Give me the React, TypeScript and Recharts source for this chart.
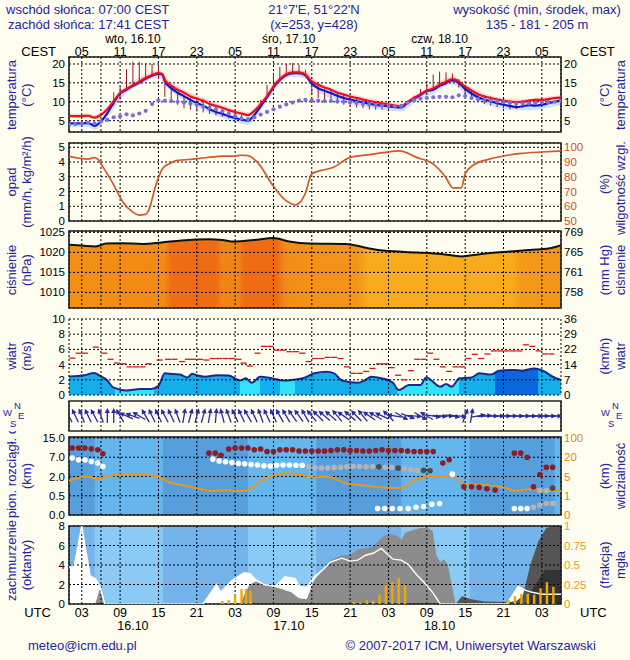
import React from "react";
import {
  ComposedChart,
  Line,
  Area,
  Scatter,
  XAxis,
  YAxis,
  CartesianGrid,
  ReferenceArea,
  ErrorBar,
} from "recharts";

const W = 630;
const H = 660;
const LEFT = 69;
const RIGHT = 69;
const PAD = 8;
const FONT = '"Liberation Sans", Arial, Helvetica, sans-serif';
const NAVY = "#25259b";
const X_DOMAIN: [number, number] = [1, 78];

// time axis: hours since 00 UTC 16.10
const gridHours = [3, 6, 9, 12, 15, 18, 21, 24, 27, 30, 33, 36, 39, 42, 45, 48, 51, 54, 57, 60, 63, 66, 69, 72, 75];
const labelHours = [3, 9, 15, 21, 27, 33, 39, 45, 51, 57, 63, 69, 75];
const dayTicks = [11, 35.4, 59];
const dayNames = ["wto, 16.10", "śro, 17.10", "czw, 18.10"];
const dayDates = ["16.10", "17.10", "18.10"];
const nights: [number, number][] = [[1, 5], [15.7, 29], [39.7, 53], [63.7, 77]];
const hours = Array.from({ length: 78 }, (_, i) => i + 1);

// temperature (°C)
const tempRed: [number, number][] = [
  [1, 6.2], [2, 6.2], [3, 6.2], [4, 6.3], [5, 5.8], [6, 6.5], [7, 8.0], [8, 10.2], [9, 12.4], [10, 13.4],
  [11, 14.4], [12, 15.3], [13, 16.3], [14, 17.1], [15, 17.6], [15.6, 17.4], [16, 15.8], [17, 14.3], [18, 13.2],
  [19, 12.4], [20, 11.4], [21, 10.8], [22, 10.3], [23, 9.4], [24, 8.9], [25, 8.4], [26, 7.8], [27, 7.3],
  [28, 6.9], [29, 6.5], [30, 7.6], [31, 9.4], [32, 11.5], [33, 14.0], [34, 16.0], [35, 17.3], [36, 17.8],
  [37, 17.8], [38, 17.2], [39, 15.4], [40, 14.5], [41, 13.8], [42, 13.2], [43, 12.4], [44, 11.9], [45, 11.4],
  [46, 11.0], [47, 10.6], [48, 10.2], [49, 9.9], [50, 9.6], [51, 9.3], [52, 9.0], [53, 8.8], [54, 10.0],
  [55, 11.0], [56, 12.0], [57, 13.0], [58, 13.5], [59, 14.5], [60, 15.3], [61, 16.0], [62, 15.4], [63, 14.0],
  [64, 13.0], [65, 12.0], [66, 11.4], [67, 11.0], [68, 10.6], [69, 10.3], [70, 10.0], [71, 9.9], [72, 10.0],
  [73, 10.3], [74, 10.5], [75, 10.5], [76, 10.7], [77, 11.0], [78, 11.1],
];
const tempBlue: [number, number][] = [
  [1, 4.3], [2, 4.3], [3, 4.3], [4, 4.4], [5, 3.6], [6, 4.8], [7, 7.0], [8, 9.8], [9, 12.2], [10, 13.2],
  [11, 14.2], [12, 15.1], [13, 16.1], [14, 16.9], [15, 17.4], [15.6, 17.2], [16, 15.4], [17, 13.6], [18, 12.4],
  [19, 11.5], [20, 10.5], [21, 9.7], [22, 9.0], [23, 8.0], [24, 7.3], [25, 6.8], [26, 6.2], [27, 5.7],
  [28, 5.3], [29, 5.0], [30, 6.5], [31, 8.8], [32, 11.2], [33, 13.8], [34, 15.8], [35, 17.1], [36, 17.6],
  [37, 17.6], [38, 17.0], [39, 14.8], [40, 13.6], [41, 12.9], [42, 12.3], [43, 11.6], [44, 11.0], [45, 10.6],
  [46, 10.2], [47, 9.8], [48, 9.5], [49, 9.2], [50, 9.0], [51, 8.8], [52, 8.6], [53, 8.5], [54, 9.8],
  [55, 10.8], [56, 11.8], [57, 12.8], [58, 13.2], [59, 14.2], [60, 15.0], [61, 15.7], [62, 15.0], [63, 13.4],
  [64, 12.2], [65, 11.2], [66, 10.6], [67, 10.1], [68, 9.6], [69, 9.2], [70, 8.9], [71, 8.6], [72, 8.8],
  [73, 9.1], [74, 9.0], [75, 9.2], [76, 9.6], [77, 10.0], [78, 10.4],
];
const pinkBand: [number, number, number][] = [
  [1, 5.8, 6.8], [4, 5.8, 6.9], [5, 5.4, 6.5], [7, 7.5, 8.8], [10, 12.8, 14.2], [13, 15.8, 17.2], [15, 17.0, 18.4],
  [16, 15.2, 16.6], [19, 11.9, 13.2], [22, 9.8, 11.1], [25, 7.8, 9.1], [28, 6.3, 7.6], [29, 6.0, 7.2],
  [31, 8.8, 10.2], [34, 15.4, 16.8], [36, 17.2, 18.6], [38, 16.6, 18.0], [40, 13.9, 15.3], [43, 11.8, 13.1],
  [46, 10.4, 11.7], [49, 9.3, 10.6], [52, 8.4, 9.7], [53, 8.3, 9.5], [55, 10.4, 11.7], [58, 12.9, 14.3],
  [61, 15.4, 16.8], [63, 13.4, 14.8], [66, 10.8, 12.1], [69, 9.7, 11.0], [72, 9.4, 10.7], [75, 9.9, 11.2],
  [78, 10.5, 11.8],
];
const blueBand: [number, number, number][] = [
  [1, 3.2, 4.3], [4, 3.3, 4.4], [5, 2.6, 3.6], [7, 6.0, 7.0], [10, 12.2, 13.2], [13, 15.2, 16.1], [15, 16.4, 17.4],
  [16, 14.4, 15.4], [19, 10.4, 11.5], [22, 7.9, 9.0], [25, 5.7, 6.8], [28, 4.2, 5.3], [29, 3.9, 5.0],
  [31, 7.7, 8.8], [34, 14.8, 15.8], [36, 16.6, 17.6], [38, 16.0, 17.0], [40, 12.5, 13.6], [43, 10.5, 11.6],
  [46, 9.1, 10.2], [49, 8.1, 9.2], [52, 7.5, 8.6], [53, 7.4, 8.5], [55, 9.7, 10.8], [58, 12.1, 13.2],
  [61, 14.6, 15.7], [63, 12.3, 13.4], [66, 9.5, 10.6], [69, 8.1, 9.2], [72, 7.7, 8.8], [75, 8.1, 9.2],
  [78, 9.3, 10.4],
];
const tempSpread: [number, number, number][] = [
  [8, 9.0, 12.5], [9, 10.6, 14.0], [10, 13.1, 18.6], [11, 14.5, 20.6], [12, 15.4, 20.6], [13, 16.3, 20.3],
  [14, 17.0, 20.0], [15, 16.0, 19.5], [16, 11.3, 14.9], [17, 10.0, 13.6], [18, 9.2, 12.3], [19, 8.3, 11.4],
  [20, 7.9, 11.0], [21, 7.4, 10.6], [22, 7.2, 10.0], [23, 6.8, 9.4], [24, 6.4, 8.6], [25, 6.0, 8.2],
  [26, 5.6, 7.6], [27, 5.2, 7.2], [28, 5.0, 6.8],
  [31, 8.6, 10.5], [32, 11.0, 14.5], [33, 13.5, 17.5], [34, 15.4, 19.2], [35, 16.8, 20.0], [36, 17.2, 20.2],
  [37, 17.3, 19.8], [38, 16.5, 18.5], [39, 12.0, 15.3], [40, 11.0, 14.2], [41, 10.5, 13.5], [42, 10.0, 13.0],
  [43, 9.5, 12.4], [44, 9.2, 11.8], [45, 8.8, 11.3], [46, 8.5, 11.0], [47, 8.3, 10.6], [48, 8.0, 10.2],
  [49, 7.9, 10.0], [50, 7.9, 9.6], [51, 7.8, 9.3],
  [55, 10.6, 11.5], [56, 11.5, 13.4], [57, 12.5, 14.8], [58, 13.0, 17.2], [59, 13.8, 18.0], [60, 14.5, 17.8],
  [61, 15.2, 17.5], [62, 13.8, 16.0], [63, 11.8, 14.2], [64, 10.8, 13.2], [65, 10.0, 12.4], [66, 9.4, 11.8],
  [67, 9.0, 11.4], [68, 8.6, 11.0], [69, 8.3, 10.8], [70, 8.0, 10.5], [71, 8.1, 10.2], [72, 8.5, 10.4],
  [73, 8.8, 10.6], [74, 8.9, 10.8], [75, 9.1, 10.9], [76, 9.4, 11.0],
];
// hourly, t = 1..78
const dewPoint = [
  4.0, 4.1, 4.3, 4.4, 4.3, 4.8, 5.2, 5.9, 6.2, 6.7, 6.4, 6.9, 7.6, 9.4, 10.4, 10.3, 10.2, 10.0, 9.8, 9.5,
  9.2, 8.8, 8.4, 8.0, 7.4, 6.8, 6.2, 5.6, 5.4, 5.9, 6.6, 7.3, 8.0, 8.7, 9.3, 9.8, 10.3, 10.5, 10.4, 10.3,
  10.2, 10.2, 10.1, 10.0, 9.9, 9.7, 9.5, 9.3, 9.1, 9.0, 8.9, 8.8, 8.9, 9.8, 10.4, 10.8, 11.0, 11.2, 11.3, 11.3,
  11.2, 11.7, 11.5, 11.0, 10.7, 10.5, 10.3, 10.1, 9.9, 9.7, 9.5, 9.5, 9.6, 9.7, 9.8, 9.9, 10.0, 10.2,
];

// relative humidity (%)
const humidity: [number, number][] = [
  [1, 93.6], [2, 93], [3, 92.3], [4, 92], [4.9, 93], [5.5, 92], [6.4, 86], [8, 74.5], [9.4, 63], [11, 56],
  [12, 54], [13, 54.5], [13.5, 57.6], [14.6, 74.4], [15.7, 86], [16.8, 89], [17.8, 91], [19, 91.5], [20.4, 92],
  [21.5, 92.5], [23.6, 93.5], [25, 94], [26.8, 94], [28, 94.6], [29, 94.3], [30.5, 89.7], [33, 73.5],
  [34.9, 64], [36.5, 61], [37.1, 62.4], [38, 69], [39, 82], [40.5, 84.3], [42.4, 86.4], [44.9, 93], [48, 95],
  [50.5, 96.6], [52.7, 97.6], [55.5, 93], [58, 88.6], [59.9, 80], [61.1, 72.5], [62.4, 72.5], [63, 82],
  [64.3, 88], [66.8, 92], [69.3, 94.3], [71.8, 95.8], [75, 96.8], [78, 97.5],
];

// pressure (hPa)
const pressure: [number, number][] = [
  [1, 1021.9], [3, 1021.7], [5.2, 1021.5], [6.8, 1022.2], [9.3, 1022.3], [12.4, 1022.1], [15.5, 1022.5],
  [18.6, 1023], [23, 1023.3], [25, 1023.1], [26.8, 1022.7], [29.9, 1023.1], [33, 1023.6], [35.5, 1022.7],
  [38.6, 1022.2], [44.3, 1022.1], [48, 1021], [50.5, 1020.4], [55.5, 1020], [59.3, 1019.6], [62.4, 1019],
  [65.5, 1019.6], [69.9, 1020.2], [74.1, 1020.7], [76.5, 1021.1], [78, 1021.8],
];
const pressureColors: [number, string][] = [
  [1, "#f39014"], [16, "#f28a14"], [17, "#ee6e14"], [24, "#ee6c14"], [25, "#f08414"], [27.5, "#f08414"],
  [28.5, "#ee6c14"], [33.5, "#ee6c14"], [35, "#f28e18"], [46, "#f39418"], [48, "#f8ac1c"], [70, "#f8ac1c"],
  [72, "#f49a18"], [78, "#f39418"],
];

// wind (m/s)
const windSpeed: [number, number][] = [
  [1, 2.45], [3.4, 2.6], [4.9, 2.9], [5.9, 2.5], [6.9, 2.0], [7.9, 1.0], [10, 0.6], [12.1, 0.8], [13.9, 0.8],
  [15, 1.2], [16, 2.85], [17.3, 2.75], [18.4, 2.7], [19.5, 2.3], [20.3, 2.8], [21, 2.6], [22.3, 2.4],
  [24.1, 2.6], [26, 2.55], [27.8, 1.9], [28.7, 2.2], [29.6, 1.6], [30.9, 2.4], [32.7, 2.2], [34.5, 1.9],
  [36.4, 2.05], [37.6, 2.2], [39.4, 2.85], [41.3, 3.05], [42.5, 2.85], [43.7, 1.9], [46.2, 1.6], [47.4, 2.0],
  [48.3, 2.4], [49.9, 2.2], [51.7, 1.6], [52.6, 0.65], [54.2, 1.3], [56, 1.3], [56.9, 2.3], [59.1, 1.1],
  [60, 1.45], [60.9, 1.1], [62.1, 2.2], [64, 2.3], [65.2, 2.85], [67.1, 2.7], [68.3, 3.2], [70.7, 3.3],
  [71.9, 3.2], [73.8, 3.5], [75.4, 3.1], [76.7, 2.4], [78, 2.0],
];
const windGust: [number, number][] = [
  [1.5, 4.85], [2.5, 5.5], [3.5, 5.5], [5.2, 6.3], [6.5, 5.5], [7.5, 4.7], [8.5, 4.2], [9.5, 4.1], [10.5, 3.7],
  [11.5, 3.7], [12.5, 3.7], [13.5, 4.1], [15.2, 4.6], [16.5, 4.7], [17.5, 4.7], [18.7, 4.4], [19.6, 4.7],
  [20.5, 4.7], [21.5, 4.7], [22.5, 4.6], [23.5, 4.8], [24.5, 4.8], [25.5, 4.8], [26.5, 4.8], [27.5, 4.7],
  [28.3, 4.2], [29.3, 3.8], [30.5, 5.5], [31.5, 6.4], [32.5, 6.4], [33.5, 5.9], [34.5, 5.9], [35.5, 5.7],
  [36.5, 5.7], [37.5, 5.5], [38.5, 4.4], [39.5, 4.8], [40.5, 4.8], [41.5, 4.95], [42.5, 4.95], [43.5, 4.8],
  [44.5, 3.7], [45.5, 2.85], [46.5, 2.85], [47.5, 3.1], [48.5, 3.5], [49.5, 4.1], [50.5, 4.1], [51.5, 3.6],
  [52.5, 2.6], [53.5, 2.0], [54.5, 3.2], [55.5, 4.7], [56.5, 4.7], [57.5, 5.5], [58.5, 4.7], [59.5, 3.7],
  [60.5, 3.1], [61.5, 3.7], [62.5, 3.7], [63.5, 4.8], [64.5, 5.35], [65.5, 4.8], [66.5, 5.4], [67.5, 5.8],
  [68.5, 5.8], [69.5, 5.8], [70.5, 5.8], [71.5, 5.8], [72.5, 6.6], [73.5, 6.4], [74.5, 5.8], [75.5, 5.4],
  [76.5, 5.4],
];
const windBands: [number, number, string][] = [
  [1, 8.2, "#14aeec"], [8.2, 14.3, "#34e2f8"], [14.3, 27.8, "#14aeec"], [27.8, 30.9, "#34e2f8"],
  [30.9, 34, "#14aeec"], [34, 36.4, "#34e2f8"], [36.4, 52.3, "#14aeec"], [52.3, 62.1, "#34e2f8"],
  [62.1, 67.7, "#14aeec"], [67.7, 74.4, "#0a66dc"], [74.4, 78, "#14aeec"],
];
// direction the arrow points to, degrees clockwise from north, hourly t = 1..78
const windDir = [
  -25, -25, -22, -25, -28, -20, 0, 0, -30, -65, -70, -60, -30, -25, -25, -28, -25, -20, 10, 15,
  15, 15, 10, 5, -15, -20, -25, -25, -30, -25, -20, -25, -25, -30, -30, -35, -35, -30, -40, -45,
  -50, -50, -40, -55, -50, -45, -40, -55, -60, -65, -45, -80, 120, 110, 95, 120, -60, 100, 95, 90,
  100, 95, 20, 10, 80, 85, 90, 90, 90, 90, 90, 90, 90, 90, 90, 90, 90, 90,
];

// cloud extent (km) and visibility (km)
const visL = [0, 0.5, 2, 7, 15];
const visR = [0, 1, 5, 20, 100];
const cloudTopDots: [number, number][] = [
  [1.5, 10.8], [2.5, 10.8], [3.5, 10.8], [4.5, 10.5], [5.5, 10.1], [6.3, 8.4], [22.9, 8.7], [23.9, 8.7],
  [24.8, 7.8], [26, 10.4], [27, 10.8], [28, 10.8], [29, 10.8], [30, 10.1], [31, 10.4], [32, 9.4], [33, 9.4],
  [34, 10.1], [35, 10.1], [36, 10.1], [37, 9.6], [38, 9.6], [39, 9.6], [40, 9.6], [41, 9.6], [42, 9.8],
  [43, 10.1], [44, 10.1], [45, 9.8], [46, 9.8], [47, 9.6], [48, 9.6], [49, 9.8], [50, 10.1], [51, 9.8],
  [52, 9.8], [53, 9.8], [54, 9.6], [55, 9.4], [56, 9.4], [57, 9.4], [58, 9.4], [59.5, 5.5], [60.5, 6.35],
  [62.8, 1.2], [64, 1.2], [65.2, 1.15], [66.4, 1.05], [67.7, 0.95], [70.7, 8.7], [71.7, 8.7], [72.7, 7.0],
  [73.7, 1.2], [74.7, 2.5], [75.7, 4.4], [76.7, 4.4],
];
const cloudBaseWhite: [number, number][] = [
  [1.5, 6.8], [2.5, 6.35], [3.5, 6.3], [4.5, 5.9], [5.5, 5.5], [6.3, 4.6], [23.5, 6.5], [24.5, 6.0],
  [25.5, 5.8], [26.5, 5.6], [27.5, 5.4], [28.5, 5.3], [29.5, 5.1], [30.5, 5.0], [31.5, 4.8], [32.5, 4.7],
  [33.5, 4.9], [34.5, 5.0], [35.5, 5.0], [36.5, 4.9], [37.5, 4.9], [61, 2.6],
  [49.3, 0.17], [50.4, 0.17], [51.6, 0.17], [52.8, 0.17], [54.1, 0.17], [55.3, 0.2], [56.5, 0.22],
  [57.8, 0.28], [59, 0.3], [70.7, 0.17], [71.7, 0.17], [72.7, 0.17],
];
const cloudBaseGray: [number, number][] = [
  [38.5, 4.6], [39.5, 4.3], [40.5, 4.2], [41.5, 4.2], [42.5, 4.3], [43.5, 4.4], [44.5, 4.5], [45.5, 4.6],
  [46.5, 4.6], [47.5, 4.5], [48.5, 4.6], [50.5, 4.4], [51.5, 4.4], [53.5, 4.0], [54.5, 3.8], [55.5, 3.6],
  [73.7, 0.2], [74.7, 0.26], [75.7, 0.3], [76.7, 0.3], [74.7, 0.9], [75.7, 0.9],
];
const cloudBaseDark: [number, number][] = [
  [49.5, 4.5], [52.5, 4.2], [56.5, 3.6], [57.5, 3.5], [76.7, 1.1],
];
const visibility: [number, number][] = [
  [1, 4.1], [3.9, 5], [5.4, 4.5], [6.9, 5], [9.4, 6.3], [12.4, 6.3], [14.9, 5], [16.7, 3.8], [19.2, 3.1],
  [21.6, 2.4], [23.5, 2.0], [25.3, 2.2], [27.8, 2.0], [29, 2.2], [30.9, 4.0], [33.3, 6.3], [35.1, 7.6],
  [37.6, 6.3], [39.4, 4.8], [41.3, 5], [44.4, 3.6], [47.4, 3.1], [49.9, 2.7], [52.3, 2.6], [53.6, 2.7],
  [54.8, 4.1], [57.2, 4.9], [59.7, 5], [60.9, 5.6], [62.8, 3.4], [64.6, 3.3], [67.1, 3.1], [69.5, 2.6],
  [70.7, 2.0], [73.2, 2.4], [76.7, 2.0], [78, 2.0],
];

// cloud cover (octants) and fog (fraction)
const cloudWhite: [number, number][] = [
  [1, 3.8], [1.8, 3.8], [3, 8], [4.3, 2.9], [5.1, 2.6], [5.8, 1.9], [6.6, 0], [22, 0], [24.1, 2.0],
  [24.7, 1.2], [26.5, 2.4], [28.4, 3.2], [29.3, 3.1], [30.2, 2.5], [31.5, 2.0], [33.3, 1.8], [34.8, 2.8],
  [36.4, 2.6], [37, 1.8], [38.2, 1.7], [39.4, 2.8], [40.7, 3.5], [41.9, 4.3], [43.7, 4.7], [45, 4.4],
  [46.2, 4.5], [47.4, 5.0], [48.6, 5.2], [49.9, 5.7], [50.5, 5.3], [51.7, 4.6], [53, 4.5], [54.2, 4.0],
  [55.4, 3.0], [56.6, 2.2], [57.9, 1.2], [59.1, 0], [69.5, 0], [71.3, 1.8], [72.5, 1.4], [73.5, 1.2],
  [75, 1.0], [78, 1.0],
];
const cloudGray: [number, number][] = [
  [1, 0], [5.1, 0], [5.8, 1.5], [6.6, 0], [27.8, 0], [28.6, 1.2], [29.3, 2.0], [30.2, 2.3], [32, 2.0],
  [34, 1.6], [35.8, 1.2], [37, 0.6], [38.2, 0.5], [39.4, 2.5], [40.7, 3.5], [41.9, 4.5], [43.7, 5.0],
  [45, 5.0], [46.2, 5.6], [48.6, 5.9], [49.9, 6.8], [51.1, 7.2], [52.3, 7.0], [53, 6.6], [53.6, 7.3],
  [54.8, 7.6], [56, 7.8], [57.2, 7.8], [57.9, 7.5], [58.5, 5.0], [59.1, 4.3], [59.7, 4.6], [60.3, 4.0],
  [61.5, 0], [78, 0],
];
const cloudDark: [number, number][] = [
  [1, 0], [61.5, 0], [62.5, 0.8], [64, 0.5], [66, 0.25], [70, 0.2], [71, 0.3], [72, 0.8], [73.2, 4],
  [74.5, 6.5], [75.7, 7.8], [76.8, 8], [78, 8],
];
const cloudDarkest: [number, number][] = [
  [1, 0], [72.5, 0], [73.5, 1.5], [74.5, 2.5], [75.5, 3.5], [78, 3.5],
];
const fog: [number, number][] = [
  [25, 0.04], [26, 0.05], [27, 0.12], [28, 0.19], [28.7, 0.19], [29.4, 0.17],
  [45.6, 0.03], [46.6, 0.02], [47.6, 0.05], [48.6, 0.04], [49.6, 0.12], [50.6, 0.25], [51.6, 0.28],
  [52.6, 0.33], [53.6, 0.24],
  [69.8, 0.05], [70.8, 0.1], [71.8, 0.13], [72.8, 0.13], [73.8, 0.12], [74.8, 0.2], [75.8, 0.28], [76.8, 0.22],
];

// panel geometry (plot area in page pixels)
const PT = { top: 57, h: 75, yL: [2, 21.85] };
const PP = { top: 143, h: 78, yL: [0, 5.29], yR: [50, 102.9] };
const PPR = { top: 231, h: 77, yL: [1006.1, 1025.35] };
const PW = { top: 319, h: 76, yL: [0, 10] };
const PD = { top: 401, h: 30, yL: [0, 1] };
const PV = { top: 437, h: 78, yL: [0, 4.05] };
const PC = { top: 526, h: 78, yL: [0, 8], yR: [0, 1] };

const xy = (a: [number, number][]) => a.map(([x, y]) => ({ x, y }));
const toIdx = (v: number, s: number[]) => {
  for (let i = 0; i < s.length - 1; i++) if (v <= s[i + 1]) return i + (v - s[i]) / (s[i + 1] - s[i]);
  return s.length - 1;
};
const off = (t: number) => `${((t - 1) / 77) * 100}%`;
const pad2 = (n: number) => String(((n % 24) + 24) % 24).padStart(2, "0");
const tickStyle = { fontSize: 11.5, fill: "#000", fontFamily: FONT };

function Back({ p, children }: any) {
  return (
    <div style={{ position: "absolute", left: 0, top: p.top - PAD }}>
      <ComposedChart width={W} height={p.h + 2 * PAD} margin={{ top: PAD, bottom: PAD, left: LEFT, right: RIGHT }}>
        <XAxis type="number" dataKey="x" domain={X_DOMAIN} hide allowDataOverflow />
        <YAxis yAxisId="L" type="number" dataKey="y" domain={p.yL} hide allowDataOverflow />
        <YAxis yAxisId="R" type="number" dataKey="y" orientation="right" domain={p.yR ?? p.yL} hide allowDataOverflow />
        {children}
      </ComposedChart>
    </div>
  );
}

function Front({ p, ticksL, ticksR, fmtL, fmtR, colorR = "#000", frame = true, horizontal = true, children }: any) {
  const yR = p.yR ?? p.yL;
  return (
    <div style={{ position: "absolute", left: 0, top: p.top - PAD }}>
      <ComposedChart width={W} height={p.h + 2 * PAD} margin={{ top: PAD, bottom: PAD, left: 0, right: 0 }}>
        <XAxis type="number" dataKey="x" domain={X_DOMAIN} ticks={gridHours} hide allowDataOverflow />
        <YAxis
          yAxisId="L" type="number" dataKey="y" width={LEFT} domain={p.yL} ticks={ticksL} tickFormatter={fmtL}
          interval={0} tick={ticksL ? tickStyle : false} axisLine={false} tickLine={false} tickSize={4}
          tickMargin={0} allowDataOverflow
        />
        <YAxis
          yAxisId="R" type="number" dataKey="y" orientation="right" width={RIGHT} domain={yR} ticks={ticksR}
          tickFormatter={fmtR} interval={0} tick={ticksR ? { ...tickStyle, fill: colorR } : false}
          axisLine={false} tickLine={false} tickSize={3} tickMargin={0} allowDataOverflow
        />
        <CartesianGrid yAxisId="L" stroke="#000" strokeDasharray="2 2" horizontal={horizontal} vertical />
        {children}
        {frame && (
          <ReferenceArea
            yAxisId="L" x1={X_DOMAIN[0]} x2={X_DOMAIN[1]} y1={p.yL[0]} y2={p.yL[1]}
            fill="none" stroke="#222" strokeWidth={1.6} ifOverflow="visible"
          />
        )}
      </ComposedChart>
    </div>
  );
}

function TickRow({ top, ticks, fmt, size = 12.5 }: any) {
  return (
    <div style={{ position: "absolute", left: 0, top: top - 1 }}>
      <ComposedChart width={W} height={18} margin={{ top: 0, bottom: 0, left: LEFT, right: RIGHT }}>
        <XAxis
          type="number" dataKey="x" domain={X_DOMAIN} ticks={ticks} tickFormatter={fmt} interval={0}
          axisLine={false} tickLine={false} tickSize={0} tickMargin={0} height={17}
          tick={{ fontSize: size, fill: "#000", fontFamily: FONT }} allowDataOverflow
        />
        <YAxis hide domain={[0, 1]} />
      </ComposedChart>
    </div>
  );
}

const nightAreas = (fill: string, key: string) =>
  nights.map(([a, b], i) => <ReferenceArea key={key + i} yAxisId="L" x1={a} x2={b} fill={fill} fillOpacity={1} ifOverflow="visible" />);

const Dash = (props: any) => {
  const { cx, cy } = props;
  if (cx == null || cy == null) return <g />;
  return <line x1={cx - 3} x2={cx + 3} y1={cy} y2={cy} stroke="#d01818" strokeWidth={1.3} />;
};
const ArrowShape = (props: any) => {
  const { cx, cy, payload } = props;
  if (cx == null || cy == null) return <g />;
  return (
    <g transform={`translate(${cx},${cy}) rotate(${payload.a})`}>
      <line x1={0} y1={7} x2={0} y2={-5} stroke="#2a2a9c" strokeWidth={1.3} />
      <path d="M0,-8 L-2.6,-3 L2.6,-3 Z" fill="#2a2a9c" />
    </g>
  );
};
const dot = (color: string, r = 2.8) => (props: any) => {
  const { cx, cy } = props;
  if (cx == null || cy == null) return <g />;
  return <circle cx={cx} cy={cy} r={r} fill={color} />;
};
const none = () => <g />;

function RotText({ x, y, children, color = NAVY, size = 13, anchor = "middle" }: any) {
  return (
    <text
      x={x} y={y} transform={`rotate(-90 ${x} ${y})`} textAnchor={anchor} dominantBaseline="central"
      fill={color} fontSize={size} fontFamily={FONT}
    >
      {children}
    </text>
  );
}

function Compass({ x }: any) {
  return (
    <g fill={NAVY} fontFamily={FONT} fontSize={9.5}>
      <text x={x} y={416}>W</text>
      <text x={x + 11} y={409}>N</text>
      <text x={x + 15} y={419}>E</text>
      <text x={x + 7} y={427}>S</text>
    </g>
  );
}

export default function App() {
  const spreadData = tempSpread.map(([x, lo, hi]) => ({ x, y: hi, err: [hi - lo, 0] }));
  const fogData = fog.map(([x, v]) => ({ x, y: v, err: [v, 0] }));
  const dewData = dewPoint.map((v, i) => ({ x: hours[i], y: v }));
  const dirData = windDir.map((a, i) => ({ x: hours[i], y: 0.5, a }));
  const visL2 = (a: [number, number][]) => a.map(([x, v]) => ({ x, y: toIdx(v, visL) }));
  const visTicks = [0, 1, 2, 3, 4];

  return (
    <div style={{ position: "fixed", left: 0, top: 0, width: W, height: H, background: "#fffdf0", fontFamily: FONT, overflow: "hidden" }}>
      {/* day / night columns */}
      <div style={{ position: "absolute", left: 0, top: 29 }}>
        <ComposedChart width={W} height={598} margin={{ top: 0, bottom: 0, left: LEFT, right: RIGHT }}>
          <XAxis type="number" dataKey="x" domain={X_DOMAIN} hide allowDataOverflow />
          <YAxis yAxisId="L" hide domain={[0, 1]} />
          <ReferenceArea yAxisId="L" x1={1} x2={78} fill="#ffffff" fillOpacity={1} />
          {nightAreas("#dcdcdc", "n")}
        </ComposedChart>
      </div>

      <TickRow top={34} size={12} ticks={dayTicks} fmt={(v: number) => dayNames[dayTicks.indexOf(v)]} />
      <TickRow top={47} ticks={labelHours} fmt={(v: number) => pad2(v + 2)} />

      {/* temperature */}
      <Back p={PT}>
        <Area yAxisId="L" data={pinkBand.map(([x, lo, hi]) => ({ x, y: [lo, hi] }))} dataKey="y" type="monotone" stroke="none" fill="#ffb8c2" fillOpacity={0.6} isAnimationActive={false} />
        <Area yAxisId="L" data={blueBand.map(([x, lo, hi]) => ({ x, y: [lo, hi] }))} dataKey="y" type="monotone" stroke="none" fill="#a8d2ff" fillOpacity={0.6} isAnimationActive={false} />
      </Back>
      <Front p={PT} ticksL={[5, 10, 15, 20]} ticksR={[5, 10, 15, 20]}>
        <Scatter yAxisId="L" data={dewData} dataKey="y" shape={dot("#7a70d8", 2.1)} isAnimationActive={false} />
        <Scatter yAxisId="L" data={spreadData} dataKey="y" shape={none} isAnimationActive={false}>
          <ErrorBar dataKey="err" direction="y" width={0} stroke="#a0142a" strokeWidth={1} />
        </Scatter>
        <Line yAxisId="L" data={xy(tempBlue)} dataKey="y" type="monotone" stroke="#1414c8" strokeWidth={2.2} dot={false} isAnimationActive={false} />
        <Line yAxisId="L" data={xy(tempRed)} dataKey="y" type="monotone" stroke="#e8101a" strokeWidth={2.2} dot={false} isAnimationActive={false} />
      </Front>

      {/* precipitation / humidity */}
      <Front p={PP} ticksL={[0, 1, 2, 3, 4, 5]} ticksR={[50, 60, 70, 80, 90, 100]} colorR="#d0501c">
        <Line yAxisId="R" data={xy(humidity)} dataKey="y" type="monotone" stroke="#d4582a" strokeWidth={1.7} dot={false} isAnimationActive={false} />
      </Front>

      {/* pressure */}
      <Back p={PPR}>
        <defs>
          <linearGradient id="pressFill" x1="0" y1="0" x2="1" y2="0">
            {pressureColors.map(([t, c], i) => <stop key={i} offset={off(t)} stopColor={c} />)}
          </linearGradient>
        </defs>
        <Area yAxisId="L" data={xy(pressure)} dataKey="y" type="monotone" stroke="#111" strokeWidth={2} fill="url(#pressFill)" fillOpacity={1} isAnimationActive={false} />
      </Back>
      <Front p={PPR} ticksL={[1010, 1015, 1020, 1025]} ticksR={[1010, 1015, 1020, 1025]} fmtR={(v: number) => String(Math.round(v * 0.750062))} />

      {/* wind */}
      <Back p={PW}>
        <defs>
          <linearGradient id="windFill" x1="0" y1="0" x2="1" y2="0">
            {windBands.flatMap(([a, b, c], i) => [
              <stop key={"a" + i} offset={off(a)} stopColor={c} />,
              <stop key={"b" + i} offset={off(b)} stopColor={c} />,
            ])}
          </linearGradient>
        </defs>
        <Area yAxisId="L" data={xy(windSpeed)} dataKey="y" type="monotone" stroke="#1a2a8c" strokeWidth={2} fill="url(#windFill)" fillOpacity={1} isAnimationActive={false} />
      </Back>
      <Front p={PW} ticksL={[0, 2, 4, 6, 8, 10]} ticksR={[0, 2, 4, 6, 8, 10]} fmtR={(v: number) => String(Math.round(v * 3.6))} frame={false}>
        <Scatter yAxisId="L" data={xy(windGust)} dataKey="y" shape={Dash} isAnimationActive={false} />
      </Front>

      {/* wind direction */}
      <Front p={PD} horizontal={false}>
        <Scatter yAxisId="L" data={dirData} dataKey="y" shape={ArrowShape} isAnimationActive={false} />
      </Front>

      {/* cloud extent / visibility */}
      <Back p={PV}>
        <ReferenceArea yAxisId="L" x1={1} x2={78} fill="#66b6ee" fillOpacity={1} />
        {nightAreas("#579fdc", "v")}
      </Back>
      <Front
        p={PV} ticksL={visTicks} ticksR={visTicks} colorR="#e08a10"
        fmtL={(i: number) => ["0.0", "0.5", "2.0", "7.0", "15.0"][i]} fmtR={(i: number) => String(visR[i])}
      >
        <Line yAxisId="L" data={visibility.map(([x, v]) => ({ x, y: toIdx(v, visR) }))} dataKey="y" type="monotone" stroke="#e8961e" strokeWidth={2} dot={false} isAnimationActive={false} />
        <Scatter yAxisId="L" data={visL2(cloudBaseWhite)} dataKey="y" shape={dot("#ffffff")} isAnimationActive={false} />
        <Scatter yAxisId="L" data={visL2(cloudBaseGray)} dataKey="y" shape={dot("#b4b4b4")} isAnimationActive={false} />
        <Scatter yAxisId="L" data={visL2(cloudBaseDark)} dataKey="y" shape={dot("#4a4a4a")} isAnimationActive={false} />
        <Scatter yAxisId="L" data={visL2(cloudTopDots)} dataKey="y" shape={dot("#8e1c24")} isAnimationActive={false} />
      </Front>

      {/* cloud cover / fog */}
      <Back p={PC}>
        <ReferenceArea yAxisId="L" x1={1} x2={78} fill="#8ccaf6" fillOpacity={1} />
        {nightAreas("#74b4ea", "c")}
      </Back>
      <Back p={PC}>
        <Area yAxisId="L" data={xy(cloudWhite)} dataKey="y" type="linear" stroke="none" fill="#ffffff" fillOpacity={1} isAnimationActive={false} />
        <Area yAxisId="L" data={xy(cloudGray)} dataKey="y" type="linear" stroke="none" fill="#8c8c8c" fillOpacity={1} isAnimationActive={false} />
        <Area yAxisId="L" data={xy(cloudDark)} dataKey="y" type="linear" stroke="none" fill="#555555" fillOpacity={1} isAnimationActive={false} />
        <Area yAxisId="L" data={xy(cloudDarkest)} dataKey="y" type="linear" stroke="none" fill="#333333" fillOpacity={1} isAnimationActive={false} />
      </Back>
      <Front p={PC} ticksL={[0, 2, 4, 6, 8]} ticksR={[0, 0.25, 0.5, 0.75, 1]} colorR="#e8a010">
        <Line yAxisId="L" data={xy(cloudWhite)} dataKey="y" type="linear" stroke="#ffffff" strokeWidth={1.4} dot={false} isAnimationActive={false} />
        <Scatter yAxisId="R" data={fogData} dataKey="y" shape={none} isAnimationActive={false}>
          <ErrorBar dataKey="err" direction="y" width={0} stroke="#f0a800" strokeWidth={2.4} />
        </Scatter>
      </Front>

      <TickRow top={608} ticks={labelHours} fmt={(v: number) => pad2(v)} />
      <TickRow top={621} ticks={dayTicks} fmt={(v: number) => dayDates[dayTicks.indexOf(v)]} />

      <svg width={W} height={H} style={{ position: "absolute", left: 0, top: 0, pointerEvents: "none" }}>
        <defs>
          <clipPath id="belowCompass">
            <rect x={0} y={431} width={W} height={H - 431} />
          </clipPath>
        </defs>
        <g fill={NAVY} fontFamily={FONT} fontSize={13}>
          <text x={6} y={14}>wschód słońca: 07:00 CEST</text>
          <text x={8} y={29}>zachód słońca: 17:41 CEST</text>
          <text x={314} y={14} textAnchor="middle">21°7'E, 51°22'N</text>
          <text x={314} y={29} textAnchor="middle">(x=253,  y=428)</text>
          <text x={537} y={14} textAnchor="middle">wysokość (min, środek, max)</text>
          <text x={537} y={29} textAnchor="middle">135 - 181 - 205 m</text>
          <text x={28} y={650}>meteo@icm.edu.pl</text>
          <text x={596} y={650} textAnchor="end">© 2007-2017 ICM, Uniwersytet Warszawski</text>
        </g>
        <g fill="#000" fontFamily={FONT} fontSize={13}>
          <text x={56} y={56} textAnchor="end">CEST</text>
          <text x={580} y={56}>CEST</text>
          <text x={51} y={617} textAnchor="end">UTC</text>
          <text x={580} y={617}>UTC</text>
        </g>
        <RotText x={11} y={95}>temperatura</RotText>
        <RotText x={26} y={95}>(°C)</RotText>
        <RotText x={604} y={95}>(°C)</RotText>
        <RotText x={620} y={95}>temperatura</RotText>
        <RotText x={11} y={182}>opad</RotText>
        <RotText x={26} y={182}>(mm/h, kg/m²/h)</RotText>
        <RotText x={604} y={184}>(%)</RotText>
        <RotText x={620} y={188}>wilgotność wzgl.</RotText>
        <RotText x={11} y={270}>ciśnienie</RotText>
        <RotText x={26} y={270}>(hPa)</RotText>
        <RotText x={604} y={270}>(mm Hg)</RotText>
        <RotText x={620} y={270}>ciśnienie</RotText>
        <RotText x={11} y={356}>wiatr</RotText>
        <RotText x={26} y={356}>(m/s)</RotText>
        <RotText x={604} y={356}>(km/h)</RotText>
        <RotText x={620} y={356}>wiatr</RotText>
        <Compass x={3} />
        <Compass x={601} />
        <g clipPath="url(#belowCompass)">
          <RotText x={11} y={518} anchor="start">pion. rozciągł. chm.</RotText>
        </g>
        <RotText x={26} y={476}>(km)</RotText>
        <RotText x={604} y={476}>(km)</RotText>
        <RotText x={620} y={476}>widzialność</RotText>
        <RotText x={11} y={601} anchor="start">zachmurzenie</RotText>
        <RotText x={26} y={565}>(oktanty)</RotText>
        <RotText x={604} y={565}>(frakcja)</RotText>
        <RotText x={620} y={565}>mgła</RotText>
      </svg>
    </div>
  );
}
